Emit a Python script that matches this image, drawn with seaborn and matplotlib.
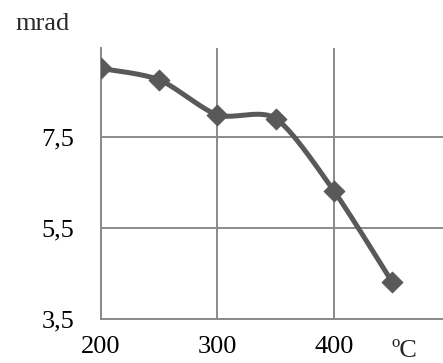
import numpy as np
import seaborn as sns
import matplotlib.pyplot as plt

# valores
temperatura = [200, 250, 300, 350, 400, 450]
mrad = [9.0, 8.75, 7.98, 7.9, 6.31, 4.31]
yticks = [3.5, 5.5, 7.5]
ytick_labels = ["3,5", "5,5", "7,5"]
xticks = [200, 300, 400]

sns.set_style("white")
plt.rcParams["font.family"] = ["Liberation Serif", "DejaVu Serif"]


def suavizar(x, y, n=30, k=0.8):
    # curva suave tipo Excel (Catmull-Rom) so para desenhar a linha
    x = np.asarray(x, float)
    y = np.asarray(y, float)
    px = np.concatenate([[x[0]], x, [x[-1]]])
    py = np.concatenate([[y[0]], y, [y[-1]]])
    xs, ys = [], []
    t = np.linspace(0, 1, n)
    for i in range(1, len(px) - 2):
        for p, out in ((px, xs), (py, ys)):
            p0, p1, p2, p3 = p[i - 1], p[i], p[i + 1], p[i + 2]
            c1 = p1 + k * (p2 - p0) / 6
            c2 = p2 - k * (p3 - p1) / 6
            out.extend((1 - t) ** 3 * p1 + 3 * (1 - t) ** 2 * t * c1
                       + 3 * (1 - t) * t ** 2 * c2 + t ** 3 * p2)
    return xs, ys


fig = plt.figure(figsize=(4.43, 3.63), dpi=100)
ax = fig.add_axes([0.228, 0.121, 0.772, 0.747])

cor_grade = "#8a8a8a"
cor_linha = "#595959"

xs, ys = suavizar(temperatura, mrad)
sns.lineplot(x=xs, y=ys, ax=ax, color=cor_linha, linewidth=3.6, sort=False, zorder=3)
sns.scatterplot(x=temperatura, y=mrad, ax=ax, marker="D", s=110, color=cor_linha,
                edgecolor=cor_linha, zorder=4)

ax.set_xlim(200, 493.6)
ax.set_ylim(3.5, 9.45)
ax.set_xticks(xticks)
ax.set_xticklabels([str(v) for v in xticks])
ax.set_yticks(yticks)
ax.set_yticklabels(ytick_labels)
ax.grid(True, color=cor_grade, linewidth=1.4)
ax.set_axisbelow(True)
ax.tick_params(axis="both", labelsize=19, colors=cor_grade, labelcolor="black",
               length=7, width=1.4, direction="out")
ax.tick_params(axis="y", pad=12)
ax.tick_params(axis="x", pad=5)

for lado in ["top", "right"]:
    ax.spines[lado].set_visible(False)
for lado in ["left", "bottom"]:
    ax.spines[lado].set_color(cor_grade)
    ax.spines[lado].set_linewidth(1.4)

fig.text(15 / 443, 1 - 30 / 363, "mrad", fontsize=19)
fig.text(391 / 443, 1 - 357 / 363, "ºC", fontsize=19)

plt.savefig("out.png", dpi=100)
